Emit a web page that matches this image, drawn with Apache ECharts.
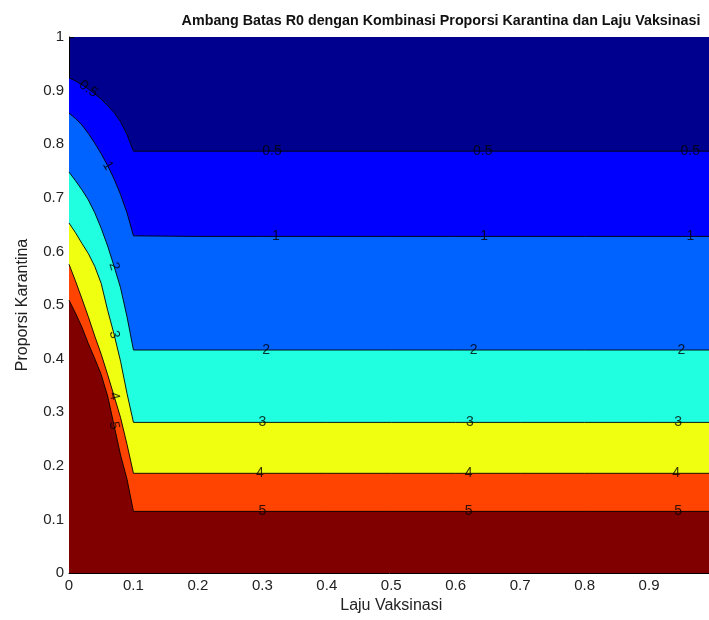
<!DOCTYPE html>
<html>
<head>
<meta charset="utf-8">
<script src="https://cdn.jsdelivr.net/npm/echarts@6/dist/echarts.min.js"></script>
<style>
html,body{margin:0;padding:0;background:#fff;}
#chart{width:709px;height:620px;}
</style>
</head>
<body>
<div id="chart"></div>
<script>
// Laju Vaksinasi (x) sample points
const xs = [0, 0.01, 0.02, 0.03, 0.04, 0.05, 0.06, 0.07, 0.08, 0.09, 0.1, 0.2, 0.3, 0.4, 0.5, 0.6, 0.7, 0.8, 0.9, 1.0];
// Contour levels of R0
const levels = ['0.5', '1', '2', '3', '4', '5'];
// Proporsi Karantina on each contour line, read at xs
const c05 = [0.924, 0.918, 0.911, 0.903, 0.894, 0.884, 0.872, 0.859, 0.842, 0.818, 0.787, 0.787, 0.787, 0.787, 0.787, 0.787, 0.787, 0.787, 0.787, 0.787];
const c1  = [0.858, 0.848, 0.836, 0.820, 0.802, 0.782, 0.760, 0.735, 0.706, 0.672, 0.629, 0.628, 0.628, 0.628, 0.628, 0.628, 0.628, 0.628, 0.628, 0.628];
const c2  = [0.748, 0.732, 0.715, 0.696, 0.672, 0.643, 0.610, 0.572, 0.532, 0.478, 0.416, 0.416, 0.416, 0.416, 0.416, 0.416, 0.416, 0.416, 0.416, 0.416];
const c3  = [0.653, 0.635, 0.615, 0.596, 0.572, 0.540, 0.490, 0.445, 0.395, 0.335, 0.281, 0.281, 0.281, 0.281, 0.281, 0.281, 0.281, 0.281, 0.281, 0.281];
const c4  = [0.576, 0.545, 0.512, 0.478, 0.442, 0.408, 0.370, 0.330, 0.290, 0.240, 0.186, 0.186, 0.186, 0.186, 0.186, 0.186, 0.186, 0.186, 0.186, 0.186];
const c5  = [0.509, 0.485, 0.459, 0.428, 0.400, 0.370, 0.330, 0.275, 0.220, 0.175, 0.115, 0.115, 0.115, 0.115, 0.115, 0.115, 0.115, 0.115, 0.115, 0.115];
const contours = [c05, c1, c2, c3, c4, c5];
// Tick labels
const xTicks = ['0', '0.1', '0.2', '0.3', '0.4', '0.5', '0.6', '0.7', '0.8', '0.9', '1'];
const yTicks = ['0', '0.1', '0.2', '0.3', '0.4', '0.5', '0.6', '0.7', '0.8', '0.9', '1'];

// styles
const topColor = '#00008E';
const fillColors = ['#0000FF', '#0062FF', '#20FFE0', '#F0FF10', '#FF4300', '#800000'];
const curveLabel = [{i: 3, rot: -35}, {i: 6, rot: -60}, {i: 7, rot: -73}, {i: 7, rot: -76}, {i: 7, rot: -76}, {i: 7, rot: -78}];
const flatLabelX = [[0.315, 0.642, 0.964], [0.321, 0.644, 0.964], [0.306, 0.628, 0.95], [0.30, 0.622, 0.945], [0.296, 0.62, 0.942], [0.30, 0.62, 0.945]];

function yAt(arr, x) {
  for (let k = 0; k < xs.length - 1; k++) {
    if (x >= xs[k] && x <= xs[k + 1]) {
      const t = (x - xs[k]) / (xs[k + 1] - xs[k]);
      return arr[k] + t * (arr[k + 1] - arr[k]);
    }
  }
  return arr[arr.length - 1];
}

const series = contours.map((arr, li) => ({
  type: 'line',
  name: levels[li],
  data: xs.map((x, i) => [x, arr[i]]),
  showSymbol: false,
  symbol: 'none',
  smooth: false,
  silent: true,
  lineStyle: {color: '#000', width: 0.9},
  areaStyle: {color: fillColors[li], opacity: 1, origin: 'start'},
  z: 2
}));

const labelData = [];
contours.forEach((arr, li) => {
  const cl = curveLabel[li];
  labelData.push({value: [xs[cl.i], arr[cl.i]], label: {formatter: levels[li], rotate: cl.rot}});
  flatLabelX[li].forEach(x => {
    labelData.push({value: [x, yAt(arr, x)], label: {formatter: levels[li], rotate: 0}});
  });
});

series.push({
  type: 'scatter',
  data: labelData,
  symbolSize: 0,
  silent: true,
  z: 5,
  label: {show: true, position: 'inside', color: '#000', fontSize: 14, fontFamily: 'Liberation Sans, Arial, sans-serif'}
});

const chart = echarts.init(document.getElementById('chart'), null, {renderer: 'canvas'});
chart.setOption({
  animation: false,
  backgroundColor: '#fff',
  title: {
    text: 'Ambang Batas R0 dengan Kombinasi Proporsi Karantina dan Laju Vaksinasi',
    left: 436, top: 9, textAlign: 'center',
    textStyle: {fontFamily: 'Liberation Sans, Arial, sans-serif', fontWeight: 'bold', fontSize: 14.3, color: '#111'}
  },
  grid: {left: 69, top: 37, width: 644.5, height: 536, show: true, backgroundColor: topColor, borderWidth: 0, outerBoundsMode: 'none', containLabel: false},
  xAxis: {
    type: 'value', min: 0, max: 1, interval: 0.1,
    name: 'Laju Vaksinasi', nameLocation: 'middle', nameGap: 24,
    nameTextStyle: {fontSize: 16, color: '#222', fontFamily: 'Liberation Sans, Arial, sans-serif'},
    axisLine: {show: true, onZero: false, lineStyle: {color: '#000', width: 1}},
    axisTick: {show: true, inside: true, length: 5, lineStyle: {color: '#000'}},
    axisLabel: {fontSize: 15, color: '#222', margin: 5, fontFamily: 'Liberation Sans, Arial, sans-serif',
      formatter: (v) => xTicks[Math.round(v * 10)]},
    splitLine: {show: false}
  },
  yAxis: {
    type: 'value', min: 0, max: 1, interval: 0.1,
    name: 'Proporsi Karantina', nameLocation: 'middle', nameGap: 38,
    nameTextStyle: {fontSize: 16, color: '#222', fontFamily: 'Liberation Sans, Arial, sans-serif'},
    axisLine: {show: true, onZero: false, lineStyle: {color: '#000', width: 1}},
    axisTick: {show: true, inside: true, length: 5, lineStyle: {color: '#000'}},
    axisLabel: {fontSize: 15, color: '#222', margin: 5, fontFamily: 'Liberation Sans, Arial, sans-serif',
      formatter: (v) => yTicks[Math.round(v * 10)]},
    splitLine: {show: false}
  },
  series: series
});
</script>
</body>
</html>
